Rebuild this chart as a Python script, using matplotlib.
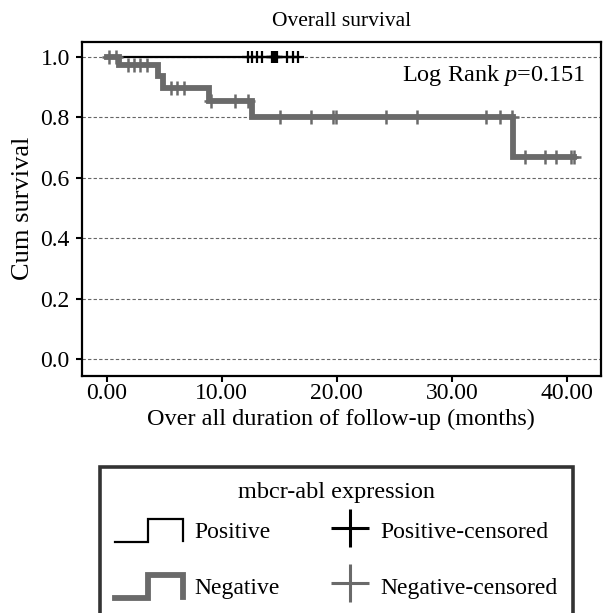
"""Kaplan-Meier style overall survival plot by mbcr-abl expression."""

import matplotlib

matplotlib.use("Agg")
import matplotlib.pyplot as plt
from matplotlib.legend_handler import HandlerBase
from matplotlib.lines import Line2D

plt.rcParams["font.family"] = ["Liberation Serif", "DejaVu Serif"]
plt.rcParams["mathtext.fontset"] = "custom"
plt.rcParams["mathtext.rm"] = "Liberation Serif"
plt.rcParams["mathtext.it"] = "Liberation Serif:italic"

# survival steps (time in months, cumulative survival after that time)
neg_times = [0.0, 1.07, 4.5, 4.9, 8.9, 12.65, 35.3, 40.6]
neg_surv = [1.0, 0.974, 0.935, 0.897, 0.853, 0.800, 0.667, 0.667]
neg_censor = [0.2, 0.78, 1.88, 2.4, 2.9, 3.48, 5.6, 6.1, 6.7, 9.05, 11.2, 12.3,
              15.1, 17.8, 19.7, 19.9, 24.3, 27.0, 33.0, 34.2, 35.2,
              36.4, 38.1, 39.1, 40.4, 40.6]

pos_times = [0.0, 16.66]
pos_surv = [1.0, 1.0]
pos_censor = [12.26, 12.66, 13.1, 13.5, 14.35, 14.45, 14.55, 14.65, 14.75,
              14.85, 15.7, 16.17, 16.66]

xticks = [0, 10, 20, 30, 40]
yticks = [0.0, 0.2, 0.4, 0.6, 0.8, 1.0]
p_value = 0.151

GRAY = "#6a6a6a"


def surv_at(times, surv, t):
    val = surv[0]
    for ti, si in zip(times, surv):
        if ti <= t:
            val = si
    return val


class StepHandler(HandlerBase):
    # little step curve like the SPSS legend key
    def create_artists(self, legend, orig_handle, xdescent, ydescent,
                       width, height, fontsize, trans):
        x0 = -xdescent
        yc = 0.33 * fontsize
        h = 16.5
        xs = [x0, x0 + 0.48 * width, x0 + 0.48 * width, x0 + width, x0 + width]
        ys = [yc - h / 2, yc - h / 2, yc + h / 2, yc + h / 2, yc - 0.45 * h]
        line = Line2D(xs, ys, color=orig_handle.get_color(),
                      lw=orig_handle.get_linewidth(), solid_joinstyle="miter",
                      transform=trans)
        return [line]


class PlusHandler(HandlerBase):
    def create_artists(self, legend, orig_handle, xdescent, ydescent,
                       width, height, fontsize, trans):
        yc = 0.33 * fontsize + 2
        mk = Line2D([-xdescent + 0.72 * width], [yc], ls="none", marker="+",
                    ms=orig_handle.get_markersize(), mew=orig_handle.get_markeredgewidth(),
                    color=orig_handle.get_color(), transform=trans)
        return [mk]


fig = plt.figure(figsize=(6.05, 6.13), dpi=100)
ax = fig.add_axes([0.135, 0.387, 0.858, 0.545])

for y in yticks:
    ax.axhline(y, color="#666666", lw=0.8, ls=(0, (3, 2)), zorder=0)

ax.step(pos_times, pos_surv, where="post", color="black", lw=1.6, zorder=2)
ax.plot(pos_censor, [surv_at(pos_times, pos_surv, t) for t in pos_censor],
        ls="none", marker="+", ms=8, mew=1.6, color="black", zorder=4)

ax.step(neg_times, neg_surv, where="post", color=GRAY, lw=4.2,
        solid_joinstyle="miter", zorder=3)
ax.plot(neg_censor, [surv_at(neg_times, neg_surv, t) for t in neg_censor],
        ls="none", marker="+", ms=10, mew=1.8, color=GRAY, zorder=3)

ax.set_xlim(-2.17, 42.95)
ax.set_ylim(-0.055, 1.05)
ax.set_xticks(xticks)
ax.set_xticklabels([f"{v:.2f}" for v in xticks])
ax.set_yticks(yticks)
ax.set_yticklabels([f"{v:.1f}" for v in yticks])
ax.tick_params(labelsize=17, width=1.5, length=4.5, direction="out")
ax.tick_params(axis="x", pad=1)
ax.tick_params(axis="y", pad=4)
for s in ax.spines.values():
    s.set_linewidth(1.6)

ax.set_title("Overall survival", fontsize=15.5, pad=11)
ax.set_xlabel("Over all duration of follow-up (months)", fontsize=17.5, labelpad=3)
ax.set_ylabel("Cum survival", fontsize=19, labelpad=5)
ax.text(0.97, 0.90, rf"Log Rank $\it{{p}}$={p_value:.3f}", transform=ax.transAxes,
        ha="right", va="center", fontsize=17.5)

h_pos = Line2D([], [], color="black", lw=1.6)
h_neg = Line2D([], [], color=GRAY, lw=4.2)
h_pos_c = Line2D([], [], ls="none", marker="+", ms=27, mew=2.2, color="black")
h_neg_c = Line2D([], [], ls="none", marker="+", ms=27, mew=2.2, color=GRAY)

leg = fig.legend(
    [h_pos, h_neg, h_pos_c, h_neg_c],
    ["Positive", "Negative", "Positive-censored", "Negative-censored"],
    handler_map={h_pos: StepHandler(), h_neg: StepHandler(),
                 h_pos_c: PlusHandler(), h_neg_c: PlusHandler()},
    ncol=2, title="mbcr-abl expression", fontsize=17, title_fontsize=17.5,
    loc="upper left", bbox_to_anchor=(100 / 605, 1 - 467 / 613),
    frameon=True, fancybox=False, edgecolor="black",
    handlelength=2.85, handleheight=3.27, labelspacing=0.0, handletextpad=0.5,
    borderpad=0.65, borderaxespad=0.0, columnspacing=0.9,
)
leg.get_frame().set_linewidth(2.6)

fig.savefig("out.png", dpi=100)
